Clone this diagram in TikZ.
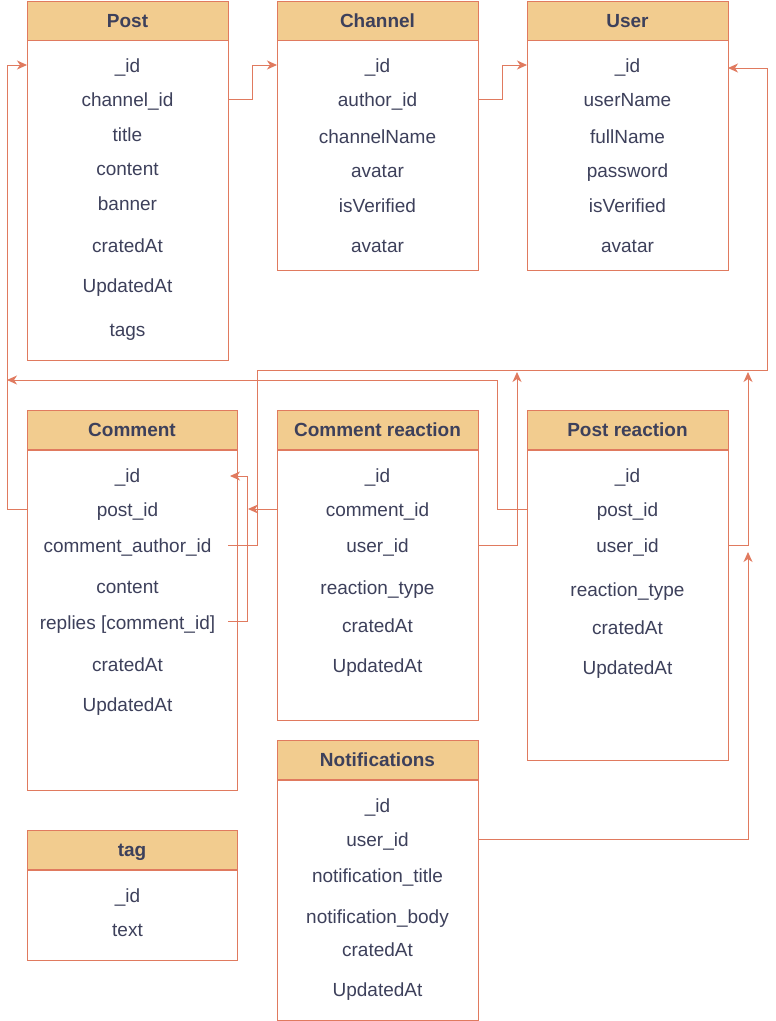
\documentclass[tikz,border=0pt]{standalone}
\usepackage{fontspec}
\setmainfont{Liberation Sans}
\usetikzlibrary{arrows.meta,calc}
\definecolor{hdrfill}{HTML}{F2CC8F}
\definecolor{edge}{HTML}{E07A5F}
\definecolor{txt}{HTML}{3D405B}
\tikzset{
  hdr/.style={draw=edge, fill=hdrfill, line width=1pt, inner sep=0pt, outer sep=0pt, minimum height=39pt, text height=15pt, text depth=2pt, text=txt, font=\fontsize{19}{22}\selectfont\bfseries},
  bodybox/.style={draw=edge, fill=white, line width=1pt, inner sep=0pt, outer sep=0pt},
  fld/.style={text=txt, inner sep=0pt, font=\fontsize{19}{22}\selectfont, anchor=base},
  conn/.style={draw=edge, line width=1pt, -{Stealth[length=10pt,width=9pt,inset=3pt]}}
}
\newcommand{\tbl}[7]{% name, x1, x2, ytop, ysep, ybot, title
  \node[hdr, minimum width={(#3-#2)*1pt}, anchor=north west] (#1-h) at (#2,#4) {#7};
  \node[bodybox, minimum width={(#3-#2)*1pt}, minimum height={(#6-#5)*1pt}, anchor=north west] (#1) at (#2,#5) {};
}
\begin{document}
\begin{tikzpicture}[x=1pt,y=-1pt]
\useasboundingbox (0,0) rectangle (776,1021);
% tables
\tbl{post}{27}{228}{1}{40}{360}{Post}
\tbl{channel}{277}{478}{1}{40}{270}{Channel}
\tbl{user}{527}{728}{1}{40}{270}{User}
\tbl{comment}{27}{237}{410}{450}{790}{Comment}
\tbl{creact}{277}{478}{410}{450}{720}{Comment reaction}
\tbl{preact}{527}{728}{410}{450}{760}{Post reaction}
\tbl{notif}{277}{478}{740}{780}{1020}{Notifications}
\tbl{tag}{27}{237}{830}{870}{960}{tag}
% fields
\node[fld] (p-id) at (127.5,72) {\_id};
\node[fld] (p-chan) at (127.5,106) {channel\_id};
\node[fld] (p-title) at (127.5,141) {title};
\node[fld] (p-content) at (127.5,175) {content};
\node[fld] (p-banner) at (127.5,210) {banner};
\node[fld] (p-crat) at (127.5,252) {cratedAt};
\node[fld] (p-upd) at (127.5,292) {UpdatedAt};
\node[fld] (p-tags) at (127.5,336) {tags};

\node[fld] (c-id) at (377.5,72) {\_id};
\node[fld] (c-author) at (377.5,106) {author\_id};
\node[fld] (c-name) at (377.5,143) {channelName};
\node[fld] (c-avatar) at (377.5,177) {avatar};
\node[fld] (c-ver) at (377.5,212) {isVerified};
\node[fld] (c-avatar2) at (377.5,252) {avatar};

\node[fld] (u-id) at (627.5,72) {\_id};
\node[fld] (u-user) at (627.5,106) {userName};
\node[fld] (u-full) at (627.5,143) {fullName};
\node[fld] (u-pass) at (627.5,177) {password};
\node[fld] (u-ver) at (627.5,212) {isVerified};
\node[fld] (u-avatar) at (627.5,252) {avatar};

\node[fld] (cm-id) at (127.5,482) {\_id};
\node[fld] (cm-post) at (127.5,516) {post\_id};
\node[fld] (cm-author) at (127.5,552) {comment\_author\_id};
\node[fld] (cm-content) at (127.5,593) {content};
\node[fld] (cm-replies) at (127.5,629) {replies [comment\_id]};
\node[fld] (cm-crat) at (127.5,671) {cratedAt};
\node[fld] (cm-upd) at (127.5,711) {UpdatedAt};

\node[fld] (cr-id) at (377.5,482) {\_id};
\node[fld] (cr-comment) at (377.5,516) {comment\_id};
\node[fld] (cr-user) at (377.5,552) {user\_id};
\node[fld] (cr-type) at (377.5,594) {reaction\_type};
\node[fld] (cr-crat) at (377.5,632) {cratedAt};
\node[fld] (cr-upd) at (377.5,672) {UpdatedAt};

\node[fld] (pr-id) at (627.5,482) {\_id};
\node[fld] (pr-post) at (627.5,516) {post\_id};
\node[fld] (pr-user) at (627.5,552) {user\_id};
\node[fld] (pr-type) at (627.5,596) {reaction\_type};
\node[fld] (pr-crat) at (627.5,634) {cratedAt};
\node[fld] (pr-upd) at (627.5,674) {UpdatedAt};

\node[fld] (n-id) at (377.5,812) {\_id};
\node[fld] (n-user) at (377.5,846) {user\_id};
\node[fld] (n-title) at (377.5,882) {notification\_title};
\node[fld] (n-body) at (377.5,923) {notification\_body};
\node[fld] (n-crat) at (377.5,956) {cratedAt};
\node[fld] (n-upd) at (377.5,996) {UpdatedAt};

\node[fld] (t-id) at (127.5,902) {\_id};
\node[fld] (t-text) at (127.5,936) {text};

% connector helper coordinates
\coordinate (cm-author-end) at (228,545);
\coordinate (cm-replies-end) at (228,621);
\coordinate (cm-id-tip) at (230,476);
\coordinate (cm-comment-tip) at (248,509);
\coordinate (bus-top) at (517,372);
\coordinate (bus-top2) at (748,372);
\coordinate (left-tip) at (7,380);
\coordinate (pr-user-tip) at (748,552);

% connectors
\draw[conn] (post.east |- 0,99) -- (252,99) |- (channel.west |- 0,65);
\draw[conn] (channel.east |- 0,99) -- (502,99) |- (user.west |- 0,65);
\draw[conn] (comment.west |- 0,509) -- (7,509) |- (post.west |- 0,65);
\draw[conn] (cm-author-end) -- (257,545) -- (257,370) -- (767,370) -- (767,68) -- (user.east |- 0,68);
\draw[conn] (creact.west |- 0,509) -- (cm-comment-tip);
\draw[conn] (cm-replies-end) -- (247,621) -- (247,476) -- (cm-id-tip);
\draw[conn] (creact.east |- 0,545) -- (517,545) -- (bus-top);
\draw[conn] (preact.west |- 0,509) -- (497,509) -- (497,380) -- (left-tip);
\draw[conn] (preact.east |- 0,545) -- (748,545) -- (bus-top2);
\draw[conn] (notif.east |- 0,839) -- (748,839) -- (pr-user-tip);
\end{tikzpicture}
\end{document}
